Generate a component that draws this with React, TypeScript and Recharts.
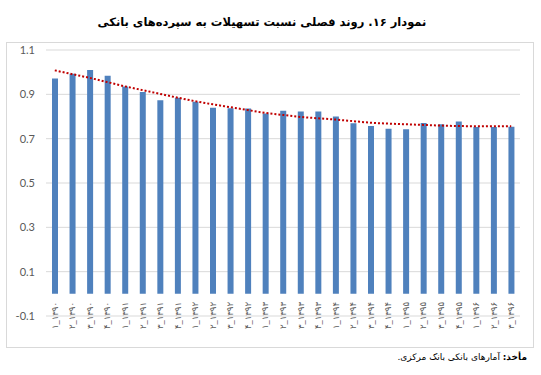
import { ComposedChart, Bar, Line, XAxis, YAxis, CartesianGrid } from 'recharts';

const categories = [
  '۱_۱۳۹۰', '۲_۱۳۹۰', '۳_۱۳۹۰', '۴_۱۳۹۰',
  '۱_۱۳۹۱', '۲_۱۳۹۱', '۳_۱۳۹۱', '۴_۱۳۹۱',
  '۱_۱۳۹۲', '۲_۱۳۹۲', '۳_۱۳۹۲', '۴_۱۳۹۲',
  '۱_۱۳۹۳', '۲_۱۳۹۳', '۳_۱۳۹۳', '۴_۱۳۹۳',
  '۱_۱۳۹۴', '۲_۱۳۹۴', '۳_۱۳۹۴', '۴_۱۳۹۴',
  '۱_۱۳۹۵', '۲_۱۳۹۵', '۳_۱۳۹۵', '۴_۱۳۹۵',
  '۱_۱۳۹۶', '۲_۱۳۹۶', '۳_۱۳۹۶',
];

const ratio = [
  0.971, 0.993, 1.01, 0.984, 0.935, 0.911, 0.873, 0.885, 0.866, 0.84, 0.837, 0.836, 0.813, 0.826,
  0.823, 0.823, 0.8, 0.77, 0.757, 0.745, 0.742, 0.771, 0.765, 0.777, 0.753, 0.753, 0.754,
];

const trend = [
  1.008, 0.991, 0.974, 0.955, 0.936, 0.919, 0.902, 0.885, 0.869, 0.855, 0.842, 0.829, 0.816, 0.807,
  0.798, 0.792, 0.786, 0.779, 0.772, 0.768, 0.765, 0.762, 0.759, 0.757, 0.756, 0.756, 0.756,
];

const yTicks = [-0.1, 0.1, 0.3, 0.5, 0.7, 0.9, 1.1];

const data = categories.map((c, i) => ({ name: c, ratio: ratio[i], trend: trend[i] }));

const QuarterTick = (props: any) => {
  const { x, y, payload } = props;
  return (
    <text
      transform={`translate(${x},${y - 22}) rotate(-90)`}
      textAnchor="end"
      dominantBaseline="central"
      fill="#595959"
      fontSize={8.5}
      fontFamily="DejaVu Sans"
    >
      {payload.value}
    </text>
  );
};

export default function App() {
  return (
    <div style={{ position: 'absolute', left: 0, top: 0, width: 541, height: 375, background: '#fff' }}>
      <div
        dir="rtl"
        style={{
          position: 'absolute', left: 0, top: 15, width: 524, textAlign: 'center',
          fontFamily: 'DejaVu Sans', fontWeight: 'bold', fontSize: 11.5, color: '#000',
        }}
      >
        نمودار ۱۶. روند فصلی نسبت تسهیلات به سپرده‌های بانکی
      </div>
      <div
        style={{
          position: 'absolute', left: 6, top: 42, width: 528, height: 306,
          border: '1px solid #d9d9d9', boxSizing: 'border-box',
        }}
      >
        <ComposedChart width={526} height={304} data={data} margin={{ top: 7, right: 13, left: 0, bottom: 0 }}>
          <CartesianGrid vertical={false} stroke="#d9d9d9" />
          <XAxis
            dataKey="name"
            axisLine={false}
            tickLine={false}
            interval={0}
            height={31}
            tick={<QuarterTick />}
          />
          <YAxis
            domain={[-0.1, 1.1]}
            ticks={yTicks}
            width={39}
            axisLine={false}
            tickLine={false}
            tickMargin={5}
            tickFormatter={(v: number) => v.toFixed(1)}
            tick={{ fill: '#595959', fontSize: 11, fontFamily: 'Lato' }}
          />
          <Bar dataKey="ratio" fill="#4f81bd" barSize={6} isAnimationActive={false} />
          <Line
            dataKey="trend"
            type="monotone"
            stroke="#c00000"
            strokeWidth={2}
            strokeDasharray="2 2"
            dot={false}
            isAnimationActive={false}
          />
        </ComposedChart>
      </div>
      <div
        dir="rtl"
        style={{
          position: 'absolute', right: 14, top: 352, fontFamily: 'DejaVu Sans', fontSize: 9, color: '#000',
        }}
      >
        <b>مأخذ:</b> آمارهای بانکی بانک مرکزی.
      </div>
    </div>
  );
}
